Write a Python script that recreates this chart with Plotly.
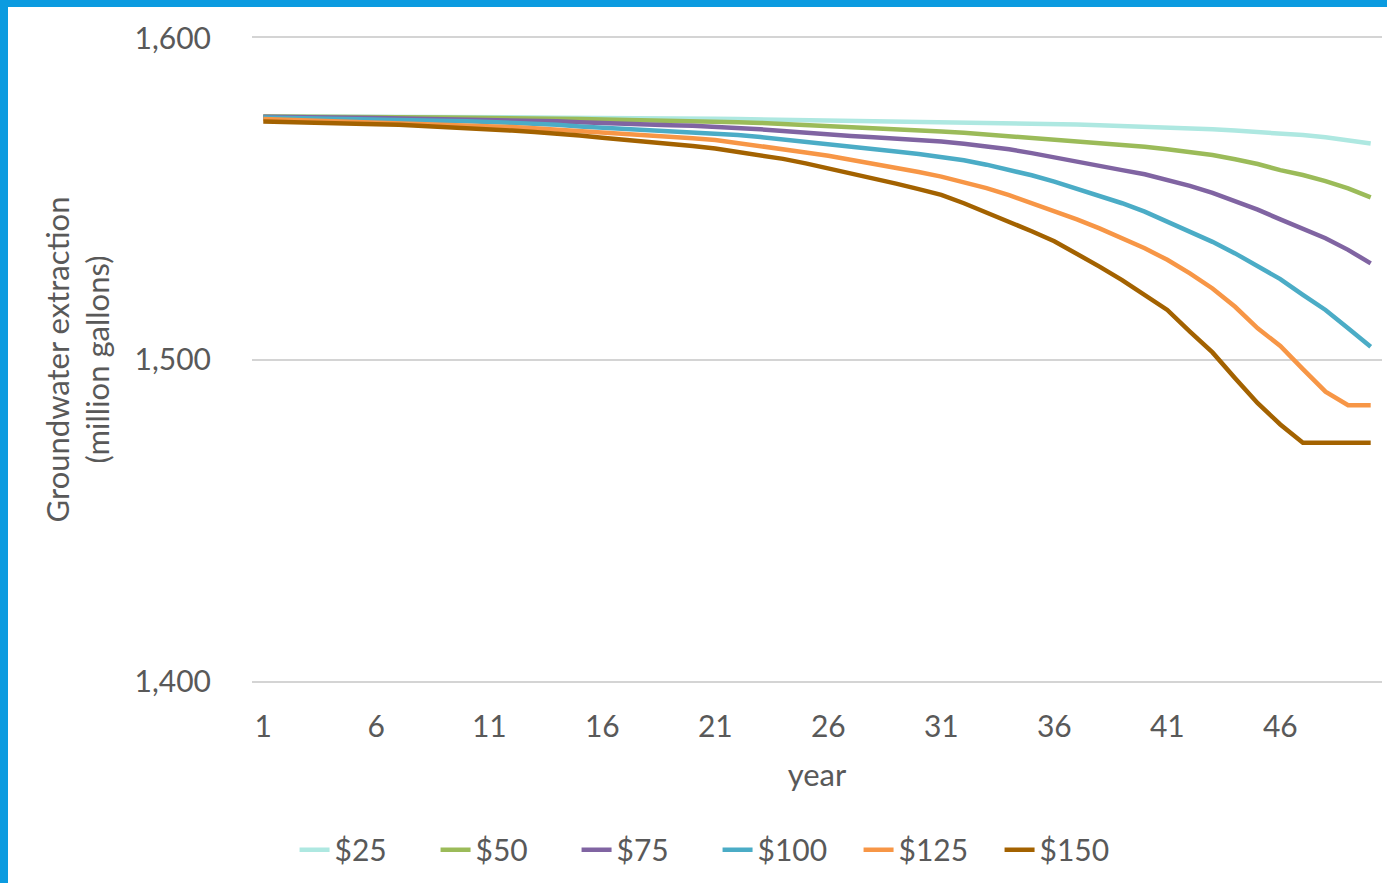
import plotly.graph_objects as go

years = list(range(1, 51))

price_labels = ["$25", "$50", "$75", "$100", "$125", "$150"]

extraction_25 = [
    1575.6, 1575.6, 1575.6, 1575.5, 1575.5, 1575.5, 1575.5, 1575.4, 1575.4, 1575.4,
    1575.3, 1575.3, 1575.3, 1575.2, 1575.2, 1575.1, 1575.1, 1575.0, 1575.0, 1574.9,
    1574.9, 1574.8, 1574.7, 1574.7, 1574.6, 1574.5, 1574.4, 1574.3, 1574.2, 1574.1,
    1574.0, 1573.9, 1573.8, 1573.6, 1573.5, 1573.3, 1573.1, 1572.9, 1572.7, 1572.5,
    1572.2, 1571.9, 1571.6, 1571.2, 1570.8, 1570.4, 1569.8, 1569.1, 1568.2, 1567.2,
]
extraction_50 = [
    1575.6, 1575.6, 1575.5, 1575.5, 1575.5, 1575.4, 1575.4, 1575.3, 1575.3, 1575.2,
    1575.2, 1575.1, 1575.0, 1574.9, 1574.8, 1574.7, 1574.6, 1574.5, 1574.4, 1574.2,
    1574.0, 1573.8, 1573.6, 1573.3, 1573.0, 1572.7, 1572.4, 1572.1, 1571.7, 1571.3,
    1570.9, 1570.5, 1570.0, 1569.5, 1568.9, 1568.3, 1567.8, 1567.3, 1566.8, 1566.2,
    1565.4, 1564.5, 1563.6, 1562.3, 1560.8, 1558.9, 1557.4, 1555.5, 1553.2, 1550.4,
]
extraction_75 = [
    1575.5, 1575.5, 1575.4, 1575.3, 1575.2, 1575.1, 1575.0, 1574.9, 1574.8, 1574.7,
    1574.6, 1574.4, 1574.3, 1574.1, 1573.8, 1573.5, 1573.3, 1573.1, 1572.9, 1572.7,
    1572.4, 1572.0, 1571.6, 1571.1, 1570.5, 1569.9, 1569.5, 1569.1, 1568.7, 1568.3,
    1567.8, 1567.1, 1566.3, 1565.4, 1564.2, 1562.8, 1561.6, 1560.2, 1558.9, 1557.6,
    1555.8, 1554.0, 1551.8, 1549.3, 1546.6, 1543.6, 1540.8, 1537.7, 1534.1, 1529.9,
]
extraction_100 = [
    1575.3, 1575.2, 1575.1, 1575.0, 1574.9, 1574.8, 1574.6, 1574.5, 1574.3, 1574.1,
    1573.9, 1573.7, 1573.4, 1573.0, 1572.5, 1572.1, 1571.8, 1571.5, 1571.1, 1570.8,
    1570.4, 1569.8, 1569.2, 1568.5, 1567.7, 1566.9, 1566.2, 1565.5, 1564.7, 1563.9,
    1563.1, 1562.0, 1560.6, 1559.0, 1557.3, 1555.3, 1553.1, 1550.9, 1548.6, 1546.0,
    1542.9, 1540.0, 1536.6, 1533.0, 1528.9, 1525.0, 1520.1, 1515.4, 1509.7, 1504.0,
]
extraction_125 = [
    1574.8, 1574.6, 1574.4, 1574.2, 1574.0, 1573.8, 1573.6, 1573.3, 1573.1, 1572.8,
    1572.6, 1572.3, 1571.9, 1571.5, 1571.1, 1570.7, 1570.3, 1569.8, 1569.3, 1568.8,
    1568.3, 1567.4, 1566.4, 1565.4, 1564.4, 1563.4, 1562.2, 1561.0, 1559.7, 1558.3,
    1556.9, 1555.2, 1553.3, 1551.1, 1548.7, 1546.2, 1543.6, 1540.8, 1537.7, 1534.6,
    1531.0, 1526.8, 1522.1, 1516.4, 1509.7, 1504.2, 1497.0, 1490.0, 1485.8, 1485.8,
]
extraction_150 = [
    1574.0, 1573.9, 1573.8, 1573.6, 1573.4, 1573.2, 1573.0, 1572.7, 1572.4, 1572.0,
    1571.7, 1571.2, 1570.8, 1570.4, 1569.7, 1569.0, 1568.4, 1567.8, 1567.1, 1566.4,
    1565.6, 1564.6, 1563.6, 1562.4, 1561.0, 1559.5, 1558.0, 1556.4, 1554.7, 1553.0,
    1551.2, 1548.6, 1545.8, 1542.9, 1539.9, 1536.8, 1533.0, 1528.9, 1524.7, 1520.1,
    1515.4, 1508.7, 1502.2, 1494.2, 1486.4, 1479.8, 1474.1, 1474.1, 1474.1, 1474.1,
]

series_values = [extraction_25, extraction_50, extraction_75,
                 extraction_100, extraction_125, extraction_150]
line_colors = ["#aee8e1", "#9bbb59", "#8064a2", "#4bacc6", "#f79646", "#a36200"]

x_ticks = [1, 6, 11, 16, 21, 26, 31, 36, 41, 46]
y_ticks = [1400, 1500, 1600]
y_tick_text = ["1,400", "1,500", "1,600"]

FONT = "Lato"
TEXT_COLOR = "#595959"
GRID_COLOR = "#d4d4d4"

fig = go.Figure()
for name, vals, col in zip(price_labels, series_values, line_colors):
    fig.add_trace(go.Scatter(
        x=years, y=vals, name=name, mode="lines",
        line=dict(color=col, width=4.5),
    ))

W, H = 1387, 883
ML, MR, MT, MB = 252, 5, 38, 202
pw, ph = W - ML - MR, H - MT - MB

fig.update_layout(
    width=W, height=H,
    margin=dict(l=ML, r=MR, t=MT, b=MB, autoexpand=False),
    paper_bgcolor="white", plot_bgcolor="white",
    font=dict(family=FONT, color=TEXT_COLOR, size=31),
    showlegend=True,
    legend=dict(
        orientation="h", x=0.412, xanchor="center", y=-0.222, yanchor="top",
        font=dict(size=30, color=TEXT_COLOR), itemwidth=30,
        entrywidth=96, entrywidthmode="pixels",
        bgcolor="rgba(0,0,0,0)",
    ),
    xaxis=dict(
        range=[0.5, 50.5], tickmode="array", tickvals=x_ticks,
        showgrid=False, zeroline=False,
        showline=True, mirror=True, linecolor=GRID_COLOR, linewidth=2,
        ticks="outside", ticklen=18, tickcolor="rgba(0,0,0,0)",
        tickfont=dict(size=30, color=TEXT_COLOR),
        title=dict(text="year", font=dict(size=31, color=TEXT_COLOR), standoff=22),
    ),
    yaxis=dict(
        range=[1400, 1600], tickmode="array", tickvals=y_ticks, ticktext=y_tick_text,
        showgrid=True, gridcolor=GRID_COLOR, gridwidth=2, zeroline=False, showline=False,
        ticks="outside", ticklen=34, tickcolor="rgba(0,0,0,0)",
        tickfont=dict(size=30, color=TEXT_COLOR),
        title=dict(text="Groundwater extraction<br>(million gallons)",
                   font=dict(size=31, color=TEXT_COLOR), standoff=15),
    ),
)

# blue frame along the top and left edges of the page
frame_color = "#0b9be0"
fig.add_shape(type="rect", xref="paper", yref="paper",
              x0=-ML / pw, x1=(pw + MR) / pw, y0=1 + (MT - 7) / ph, y1=1 + MT / ph,
              fillcolor=frame_color, line=dict(width=0), layer="above")
fig.add_shape(type="rect", xref="paper", yref="paper",
              x0=-ML / pw, x1=(8 - ML) / pw, y0=-MB / ph, y1=1 + MT / ph,
              fillcolor=frame_color, line=dict(width=0), layer="above")

fig.write_html("out.html")
